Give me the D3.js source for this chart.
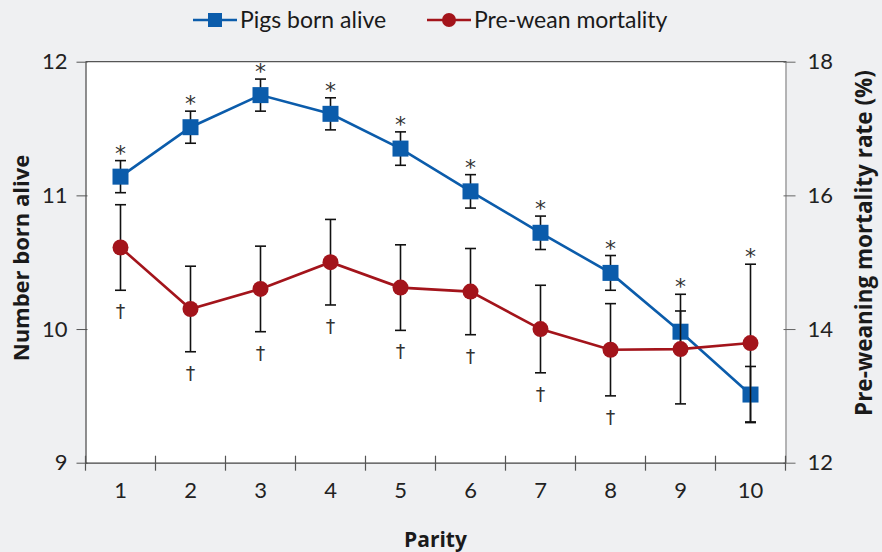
<!DOCTYPE html>
<html>
<head>
<meta charset="utf-8">
<script src="https://cdn.jsdelivr.net/npm/d3@7"></script>
<style>
  body { margin: 0; background: #eff0f2; }
  svg { display: block; font-family: Lato, "Open Sans", sans-serif; }
</style>
</head>
<body>
<div id="chart"></div>
<script>
// Data
var parity = [1, 2, 3, 4, 5, 6, 7, 8, 9, 10];
var pigsBornAlive = [11.14, 11.51, 11.75, 11.61, 11.35, 11.03, 10.72, 10.42, 9.98, 9.51];
var pigsBornAliveErr = [0.12, 0.12, 0.12, 0.12, 0.125, 0.125, 0.125, 0.13, 0.155, 0.21];
var preWeanMortality = [15.22, 14.30, 14.60, 15.00, 14.62, 14.56, 14.00, 13.69, 13.70, 13.79];
var preWeanMortalityErr = [0.64, 0.64, 0.64, 0.64, 0.64, 0.645, 0.655, 0.69, 0.82, 1.18];
var pigsSignif = [true, true, true, true, true, true, true, true, true, true];     // asterisks
var mortSignif = [true, true, true, true, true, true, true, true, false, false];  // daggers
var leftTicks = [9, 10, 11, 12];
var rightTicks = [12, 14, 16, 18];
var seriesNames = ['Pigs born alive', 'Pre-wean mortality'];

var width = 882, height = 552;
var margin = {top: 61.7, right: 96.5, bottom: 89.3, left: 85.5};
var blue = '#0b5cab', red = '#a3141b';
var titleFont = '"Open Sans", Lato, sans-serif';

var svg = d3.select('#chart').append('svg')
  .attr('width', width)
  .attr('height', height);

svg.append('rect').attr('width', width).attr('height', height).attr('fill', '#eff0f2');

// Scales
var x = d3.scaleBand().domain(parity).range([margin.left, width - margin.right]);
var xc = function(d) { return x(d) + x.bandwidth() / 2; };
var yL = d3.scaleLinear().domain([9, 12]).range([height - margin.bottom, margin.top]);
var yR = d3.scaleLinear().domain([12, 18]).range([height - margin.bottom, margin.top]);

var x0 = margin.left, x1 = width - margin.right;
var yTop = margin.top, yBot = height - margin.bottom;

// Plot background
svg.append('rect')
  .attr('x', x0).attr('y', yTop)
  .attr('width', x1 - x0).attr('height', yBot - yTop)
  .attr('fill', '#ffffff');

// Frame top line
svg.append('line')
  .attr('x1', x0).attr('x2', x1 + 1).attr('y1', yTop).attr('y2', yTop)
  .attr('stroke', '#555').attr('stroke-width', 1.2);

// Left axis
var leftAxis = svg.append('g')
  .attr('transform', 'translate(' + x0 + ',0)')
  .call(d3.axisLeft(yL).tickValues(leftTicks).tickFormat(d3.format('d'))
    .tickSizeInner(9).tickSizeOuter(0).tickPadding(9));
leftAxis.select('.domain').attr('stroke', '#444').attr('stroke-width', 1.2);
leftAxis.selectAll('.tick line').attr('stroke', '#555').attr('x2', -9).attr('x1', 2);
leftAxis.selectAll('.tick text').attr('font-size', 22).attr('fill', '#222')
  .attr('font-family', 'Lato, sans-serif');

// Right axis
var rightAxis = svg.append('g')
  .attr('transform', 'translate(' + x1 + ',0)')
  .call(d3.axisRight(yR).tickValues(rightTicks).tickFormat(d3.format('d'))
    .tickSizeInner(10).tickSizeOuter(0).tickPadding(12));
rightAxis.select('.domain').attr('stroke', '#888').attr('stroke-width', 1.2);
rightAxis.selectAll('.tick line').attr('stroke', '#666').attr('x1', -2);
rightAxis.selectAll('.tick text').attr('font-size', 22).attr('fill', '#222')
  .attr('font-family', 'Lato, sans-serif');

// Bottom axis: labels centred in bands, ticks at band edges
var bottomAxis = svg.append('g')
  .attr('transform', 'translate(0,' + yBot + ')')
  .call(d3.axisBottom(x).tickSize(0).tickPadding(20));
bottomAxis.select('.domain').attr('stroke', '#444').attr('stroke-width', 1.2);
bottomAxis.selectAll('.tick text').attr('font-size', 22).attr('fill', '#222')
  .attr('font-family', 'Lato, sans-serif');

var edges = parity.map(function(d) { return x(d); }).concat([x1]);
svg.append('g').selectAll('line')
  .data(edges)
  .enter().append('line')
  .attr('x1', function(d) { return d; }).attr('x2', function(d) { return d; })
  .attr('y1', yBot - 7).attr('y2', yBot + 8)
  .attr('stroke', '#555').attr('stroke-width', 1.2);

// Axis titles
svg.append('text')
  .attr('transform', 'translate(29,' + 258 + ') rotate(-90)')
  .attr('text-anchor', 'middle')
  .attr('font-family', titleFont)
  .attr('font-size', 22).attr('font-weight', 'bold').attr('fill', '#1a1a1a')
  .text('Number born alive');

svg.append('text')
  .attr('transform', 'translate(872,' + 243 + ') rotate(-90)')
  .attr('text-anchor', 'middle')
  .attr('font-family', titleFont)
  .attr('font-size', 22.5).attr('font-weight', 'bold').attr('fill', '#1a1a1a')
  .text('Pre-weaning mortality rate (%)');

svg.append('text')
  .attr('x', (x0 + x1) / 2).attr('y', 547)
  .attr('text-anchor', 'middle')
  .attr('font-family', titleFont)
  .attr('font-size', 21).attr('font-weight', 'bold').attr('fill', '#1a1a1a')
  .text('Parity');

// Error bar helper
function drawErrors(g, vals, errs, scale) {
  var cap = 5.5;
  var eb = g.append('g').selectAll('g')
    .data(parity)
    .enter().append('g');
  eb.append('line')
    .attr('x1', xc).attr('x2', xc)
    .attr('y1', function(d, i) { return scale(vals[i] + errs[i]); })
    .attr('y2', function(d, i) { return scale(vals[i] - errs[i]); });
  eb.append('line')
    .attr('x1', function(d) { return xc(d) - cap; }).attr('x2', function(d) { return xc(d) + cap; })
    .attr('y1', function(d, i) { return scale(vals[i] + errs[i]); })
    .attr('y2', function(d, i) { return scale(vals[i] + errs[i]); });
  eb.append('line')
    .attr('x1', function(d) { return xc(d) - cap; }).attr('x2', function(d) { return xc(d) + cap; })
    .attr('y1', function(d, i) { return scale(vals[i] - errs[i]); })
    .attr('y2', function(d, i) { return scale(vals[i] - errs[i]); });
  eb.selectAll('line').attr('stroke', '#111').attr('stroke-width', 1.6);
}

// Pigs born alive series
var gBlue = svg.append('g');
gBlue.append('path')
  .datum(parity)
  .attr('fill', 'none').attr('stroke', blue).attr('stroke-width', 2.6)
  .attr('d', d3.line().x(xc).y(function(d, i) { return yL(pigsBornAlive[i]); }));
drawErrors(gBlue, pigsBornAlive, pigsBornAliveErr, yL);
gBlue.append('g').selectAll('rect')
  .data(parity)
  .enter().append('rect')
  .attr('x', function(d) { return xc(d) - 8; })
  .attr('y', function(d, i) { return yL(pigsBornAlive[i]) - 8; })
  .attr('width', 16).attr('height', 16)
  .attr('fill', blue);

// Pre-wean mortality series
var gRed = svg.append('g');
gRed.append('path')
  .datum(parity)
  .attr('fill', 'none').attr('stroke', red).attr('stroke-width', 2.6)
  .attr('d', d3.line().x(xc).y(function(d, i) { return yR(preWeanMortality[i]); }));
drawErrors(gRed, preWeanMortality, preWeanMortalityErr, yR);
gRed.append('g').selectAll('circle')
  .data(parity)
  .enter().append('circle')
  .attr('cx', xc)
  .attr('cy', function(d, i) { return yR(preWeanMortality[i]); })
  .attr('r', 8)
  .attr('fill', red);

// Significance markers
svg.append('g').selectAll('text')
  .data(parity.filter(function(d, i) { return pigsSignif[i]; }))
  .enter().append('text')
  .attr('x', xc)
  .attr('y', function(d) {
    var i = parity.indexOf(d);
    var top = Math.min(yL(pigsBornAlive[i] + pigsBornAliveErr[i]), yR(preWeanMortality[i] + preWeanMortalityErr[i]));
    return top;
  })
  .attr('text-anchor', 'middle')
  .attr('font-size', 22).attr('fill', '#333')
  .attr('font-family', 'DejaVu Sans, sans-serif')
  .text('*');

svg.append('g').selectAll('text')
  .data(parity.filter(function(d, i) { return mortSignif[i]; }))
  .enter().append('text')
  .attr('x', xc)
  .attr('y', function(d) {
    var i = parity.indexOf(d);
    return yR(preWeanMortality[i] - preWeanMortalityErr[i]) + 28;
  })
  .attr('text-anchor', 'middle')
  .attr('font-size', 19).attr('fill', '#333')
  .attr('font-family', 'DejaVu Sans, sans-serif')
  .text('\u2020');

// Legend
var legend = svg.append('g').attr('transform', 'translate(0,20)');
var legendItems = [
  {name: seriesNames[0], color: blue, shape: 'square', x: 193},
  {name: seriesNames[1], color: red, shape: 'circle', x: 427}
];
legendItems.forEach(function(item) {
  var g = legend.append('g').attr('transform', 'translate(' + item.x + ',0)');
  g.append('line').attr('x1', 0).attr('x2', 44).attr('y1', 0).attr('y2', 0)
    .attr('stroke', item.color).attr('stroke-width', 2.6);
  if (item.shape === 'square') {
    g.append('rect').attr('x', 15).attr('y', -7).attr('width', 14).attr('height', 14).attr('fill', item.color);
  } else {
    g.append('circle').attr('cx', 22).attr('cy', 0).attr('r', 7).attr('fill', item.color);
  }
  g.append('text').attr('x', 47).attr('y', 8)
    .attr('font-size', 23).attr('fill', '#1a1a1a')
    .text(item.name);
});
</script>
</body>
</html>
